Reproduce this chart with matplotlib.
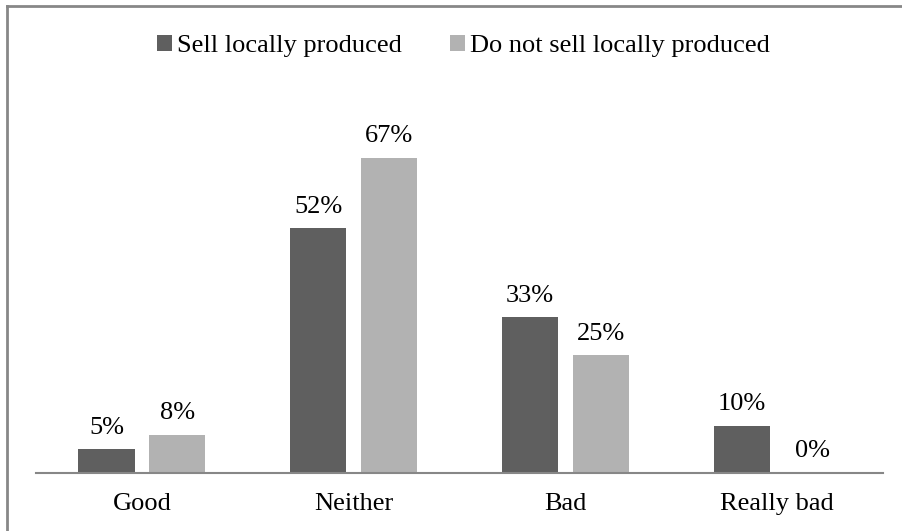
import matplotlib
matplotlib.use("Agg")
import matplotlib.pyplot as plt
from matplotlib.patches import Patch
from matplotlib.lines import Line2D
import numpy as np

categories = ["Good", "Neither", "Bad", "Really bad"]
series_names = ["Sell locally produced", "Do not sell locally produced"]
sell_local = [5, 52, 33, 10]
not_sell_local = [8, 67, 25, 0]

dark = "#5f5f5f"
light = "#b2b2b2"
edge_gray = "#878787"

plt.rcParams["font.family"] = ["Liberation Serif", "DejaVu Serif"]
FS = 19

W, H = 902, 531
fig = plt.figure(figsize=(W / 100, H / 100), dpi=100)

# axes placed in pixel terms: baseline at y=472.5, x from 36 to 883
left, right = 36, 883
base = 472.5
px_per_pct = 4.7
ymax = 80
ax_h = ymax * px_per_pct
ax = fig.add_axes([left / W, (H - base) / H, (right - left) / W, ax_h / H])

x = np.arange(len(categories))
bw = 0.265
off = 0.167
b1 = ax.bar(x - off, sell_local, bw, color=dark, label=series_names[0])
b2 = ax.bar(x + off, not_sell_local, bw, color=light, label=series_names[1])

for bars, vals in ((b1, sell_local), (b2, not_sell_local)):
    for rect, v in zip(bars, vals):
        ax.annotate(f"{v}%", (rect.get_x() + rect.get_width() / 2, v),
                    xytext=(0, 7.5), textcoords="offset points",
                    ha="center", va="bottom", fontsize=FS, color="black")

ax.set_xlim(-0.5, len(categories) - 0.5)
ax.set_ylim(0, ymax)
ax.set_xticks(x)
ax.set_xticklabels(categories, fontsize=FS)
ax.tick_params(axis="x", length=0, pad=15)
ax.set_yticks([])
for s in ("top", "right", "left"):
    ax.spines[s].set_visible(False)
ax.spines["bottom"].set_color(edge_gray)
ax.spines["bottom"].set_linewidth(1.5)

handles = [Patch(facecolor=dark, edgecolor="none"), Patch(facecolor=light, edgecolor="none")]
fig.legend(handles, series_names, loc="center", bbox_to_anchor=(463.5 / W, 1 - 46 / H),
           ncol=2, frameon=False, fontsize=FS, handlelength=0.55, handleheight=0.55,
           handletextpad=0.2, columnspacing=1.82)

# outer frame: left and top edges
fig.add_artist(Line2D([6.5 / W, 6.5 / W], [0, 1 - 5.5 / H], transform=fig.transFigure,
                      color=edge_gray, linewidth=2))
fig.add_artist(Line2D([6.5 / W, 1], [1 - 5.5 / H, 1 - 5.5 / H], transform=fig.transFigure,
                      color=edge_gray, linewidth=2))

fig.savefig("out.png", dpi=100, facecolor="white")
